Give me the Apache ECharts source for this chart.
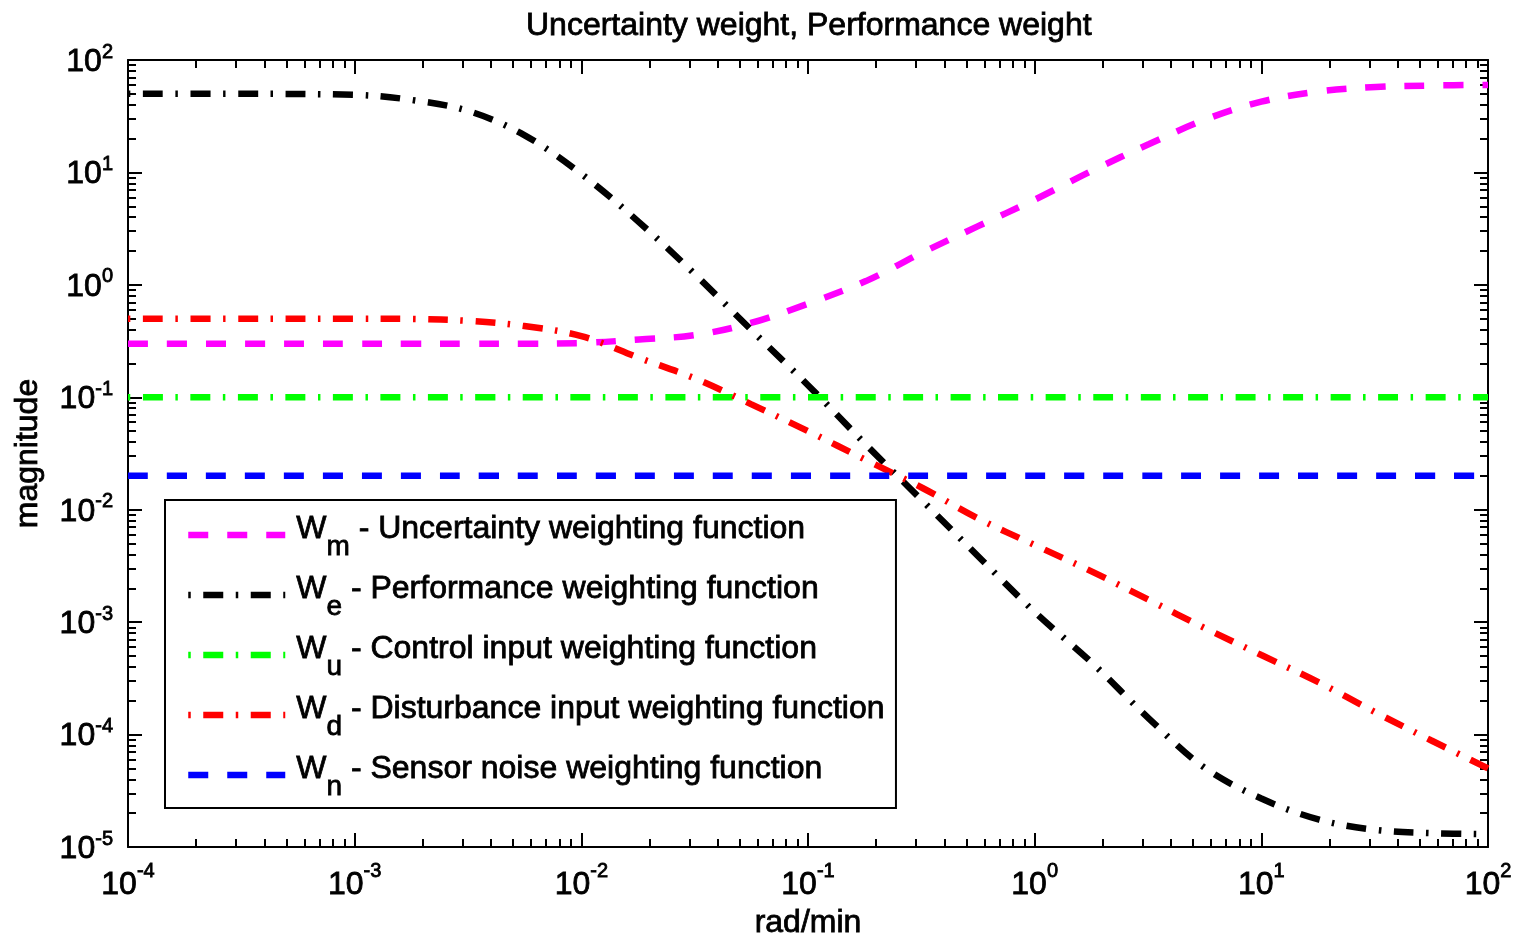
<!DOCTYPE html>
<html>
<head>
<meta charset="utf-8">
<script src="https://cdn.jsdelivr.net/npm/echarts@6/dist/echarts.min.js"></script>
<style>
  html, body { margin: 0; padding: 0; background: #fff; }
  #chart { width: 1518px; height: 939px; }
</style>
</head>
<body>
<div id="chart"></div>
<script>
// ---- data ----
const freq = [1e-4, 3.2e-4, 1e-3, 1.8e-3, 3.2e-3, 5.6e-3, 0.01, 0.018, 0.032, 0.056, 0.1, 0.18, 0.32, 0.56, 1, 1.8, 3.2, 5.6, 10, 18, 32, 56, 100];
const wmVals = [0.3, 0.3, 0.3, 0.3, 0.3, 0.3, 0.304, 0.327, 0.358, 0.458, 0.68, 1.08, 1.94, 3.31, 5.72, 10.4, 17.9, 29.3, 42.6, 52.5, 57.5, 59.3, 60];
const weVals = [50, 50, 49, 44, 35, 21.5, 9.7, 3.6, 1.22, 0.40, 0.128, 0.038, 0.012, 0.0039, 0.00123, 4.3e-4, 1.38e-4, 5.1e-5, 2.7e-5, 1.75e-5, 1.42e-5, 1.33e-5, 1.3e-5];
const wdVals = [0.5, 0.5, 0.5, 0.497, 0.478, 0.43, 0.35, 0.224, 0.146, 0.087, 0.05, 0.0277, 0.0156, 0.0084, 0.00485, 0.0028, 0.00157, 8.9e-4, 5.1e-4, 2.9e-4, 1.57e-4, 8.9e-5, 5.0e-5];
const flatFreq = [1e-4, 100];
const wuVals = [0.1, 0.1];
const wnVals = [0.02, 0.02];

const seriesNames = ['Wm', 'We', 'Wu', 'Wd', 'Wn'];
const legendSubs = ['m', 'e', 'u', 'd', 'n'];
const legendDescs = [' - Uncertainty weighting function', ' - Performance weighting function', ' - Control input weighting function', ' - Disturbance input weighting function', ' - Sensor noise weighting function'];

const xMajor = [1e-4, 1e-3, 1e-2, 1e-1, 1, 10, 100];
const yMajor = [1e-5, 1e-4, 1e-3, 1e-2, 1e-1, 1, 10, 100];
const titleText = 'Uncertainty weight, Performance weight';
const xName = 'rad/min';
const yName = 'magnitude';

// ---- helpers ----
function minorOf(majors) {
  const out = [];
  for (let i = 0; i < majors.length - 1; i++) {
    for (let k = 2; k <= 9; k++) out.push(+(k * majors[i]).toPrecision(6));
  }
  return out;
}
const xMinor = minorOf(xMajor);
const yMinor = minorOf(yMajor);
function pairs(xs, ys) { return xs.map((x, i) => [x, ys[i]]); }

const FONT = "'Liberation Sans', Arial, Helvetica, sans-serif";
const TB = { textBorderColor: '#000', textBorderWidth: 0.8 };
function txt(o) { return Object.assign({ fontFamily: FONT, color: '#000', fontWeight: 'normal' }, TB, o); }

function expRich(L) {
  return {
    b: txt({ fontSize: 32, lineHeight: L, verticalAlign: 'bottom' }),
    s: txt({ fontSize: 20, lineHeight: 20, verticalAlign: 'top' })
  };
}
function expLabel(v) {
  const e = Math.round(Math.log10(v));
  return '{b|10}{s|' + e + '}';
}

const lineAx = { show: true, lineStyle: { color: '#000', width: 2 } };
function majorTick(vals) { return { show: true, inside: true, length: 14, lineStyle: { color: '#000', width: 2 }, customValues: vals }; }
function minorTick(vals) { return { show: true, inside: true, length: 8, lineStyle: { color: '#000', width: 2 }, customValues: vals }; }

function xAx(position, showLine, tick, label) {
  const a = {
    type: 'log', logBase: 10, gridIndex: 0, position: position, min: 1e-4, max: 100,
    axisLine: showLine ? lineAx : { show: false },
    axisTick: tick,
    splitLine: { show: false },
    axisLabel: { show: false }
  };
  if (label) {
    a.axisLabel = { show: true, customValues: xMajor, formatter: expLabel, rich: expRich(40), margin: 14 };
    a.name = xName; a.nameLocation = 'middle'; a.nameGap = 55;
    a.nameTextStyle = txt({ fontSize: 32 });
  }
  return a;
}
function yAx(position, showLine, tick, label) {
  const a = {
    type: 'log', logBase: 10, gridIndex: 0, position: position, min: 1e-5, max: 100,
    axisLine: showLine ? lineAx : { show: false },
    axisTick: tick,
    splitLine: { show: false },
    axisLabel: { show: false }
  };
  if (label) {
    a.axisLabel = { show: true, customValues: yMajor, formatter: expLabel, rich: expRich(36), margin: 15 };
    a.name = yName; a.nameLocation = 'middle'; a.nameGap = 84;
    a.nameTextStyle = txt({ fontSize: 32 });
  }
  return a;
}

const DASH = [20, 19];
const DASHDOT = [20, 12.5, 2.5, 12.5];
function mkSeries(name, data, color, dash, offset) {
  return {
    name: name, type: 'line', xAxisIndex: 0, yAxisIndex: 0, data: data,
    symbol: 'none', smooth: 0.35, silent: true,
    emphasis: { disabled: true },
    lineStyle: { color: color, width: 6.5, type: dash, dashOffset: offset, cap: 'butt' },
    itemStyle: { color: color }
  };
}

const option = {
  animation: false,
  backgroundColor: '#fff',
  title: {
    text: titleText, left: 526, top: 10, padding: 0,
    textStyle: txt({ fontSize: 32 })
  },
  grid: { left: 128, right: 30, top: 60, bottom: 92, containLabel: false, outerBoundsMode: 'none' },
  xAxis: [
    xAx('bottom', true, majorTick(xMajor), true),
    xAx('bottom', false, minorTick(xMinor), false),
    xAx('top', true, majorTick(xMajor), false),
    xAx('top', false, minorTick(xMinor), false)
  ],
  yAxis: [
    yAx('left', true, majorTick(yMajor), true),
    yAx('left', false, minorTick(yMinor), false),
    yAx('right', true, majorTick(yMajor), false),
    yAx('right', false, minorTick(yMinor), false)
  ],
  legend: {
    show: true, orient: 'vertical', left: 165, top: 500,
    padding: [5, 11, 3, 20],
    itemGap: 0, itemWidth: 97, itemHeight: 14,
    selectedMode: false,
    backgroundColor: '#fff', borderColor: '#000', borderWidth: 2, borderRadius: 0,
    data: seriesNames,
    itemStyle: { color: 'rgba(0,0,0,0)', borderWidth: 0 },
    lineStyle: { width: 6.5, cap: 'butt' },
    formatter: function (name) {
      const i = seriesNames.indexOf(name);
      return '{v|W}{s|' + legendSubs[i] + '}{w|' + legendDescs[i] + '}';
    },
    textStyle: txt({
      fontSize: 32,
      rich: {
        v: txt({ fontSize: 32, lineHeight: 60, verticalAlign: 'top', padding: [8, 0, 0, 6] }),
        w: txt({ fontSize: 32, lineHeight: 60, verticalAlign: 'top', padding: [8, 0, 0, 0] }),
        s: txt({ fontSize: 28, lineHeight: 14, verticalAlign: 'bottom', padding: [0, 0, 4, 0] })
      }
    })
  },
  series: [
    mkSeries('Wm', pairs(freq, wmVals), '#ff00ff', DASH, 0),
    mkSeries('We', pairs(freq, weVals), '#000000', DASHDOT, 32.5),
    mkSeries('Wu', pairs(flatFreq, wuVals), '#00ff00', DASHDOT, 32.5),
    mkSeries('Wd', pairs(freq, wdVals), '#ff0000', DASHDOT, 32.5),
    mkSeries('Wn', pairs(flatFreq, wnVals), '#0000ff', DASH, 0)
  ]
};

const chart = echarts.init(document.getElementById('chart'), null, { renderer: 'canvas' });
chart.setOption(option);
</script>
</body>
</html>
